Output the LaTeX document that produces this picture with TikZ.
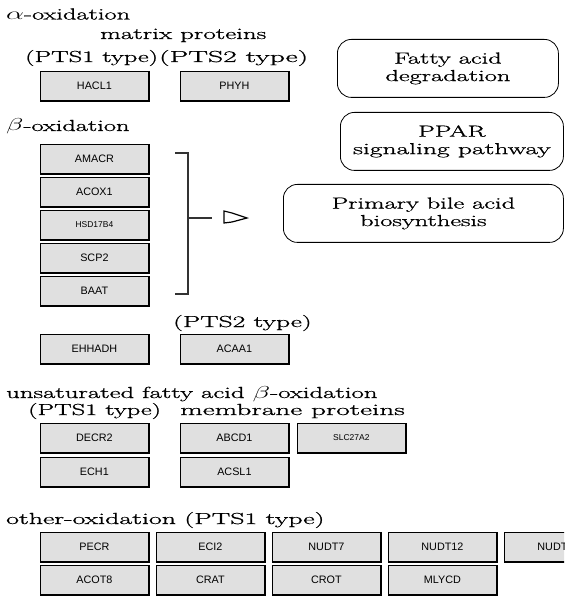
\documentclass[tikz,border=0pt]{standalone}
\usepackage{fontspec}
\usepackage{graphicx}
\newfontfamily\genefont{Liberation Sans}
\newfontfamily\lblfont{Latin Modern Roman}[FakeBold=0.8]
\definecolor{genegray}{HTML}{E0E0E0}
\newcommand{\sx}[2][1.65]{\scalebox{#1}[1]{#2}}
\tikzset{
  lbl/.style={anchor=base west, inner sep=0pt, font=\lblfont\fontsize{16}{18}\selectfont},
  genebox/.style={draw, fill=genegray, line width=0.8pt, minimum width=108pt,
    minimum height=29pt, inner sep=0pt, anchor=north west,
    font=\genefont\fontsize{10.8}{12}\selectfont},
  smallgene/.style={font=\genefont\fontsize{8.5}{10}\selectfont},
  pathbox/.style={draw, line width=0.8pt, rounded corners=14pt, inner sep=0pt,
    align=center, anchor=north west, font=\lblfont\fontsize{16}{17.5}\selectfont},
  shadowline/.style={line width=1.1pt},
  bracketline/.style={line width=1.3pt, draw=black!80},
}
\begin{document}
\begin{tikzpicture}[x=1pt, y=-1pt]
\useasboundingbox (0,0) rectangle (564,601);
\fill[white] (0,0) rectangle (564,601);
\clip (0,0) rectangle (564,601);

% section labels
\node[lbl] (lalpha) at (6,19.5) {\sx{$\alpha$-oxidation}};
\node[lbl] (lmatrix) at (100,39) {\sx[1.68]{matrix proteins}};
\node[lbl] (lpts1a) at (25,62) {\sx{(PTS1 type)}};
\node[lbl] (lpts2a) at (159,62) {\sx[1.85]{(PTS2 type)}};
\node[lbl] (lbeta) at (6,131) {\sx{$\beta$-oxidation}};
\node[lbl] (lpts2b) at (173,327) {\sx[1.72]{(PTS2 type)}};
\node[lbl] (lunsat) at (6,398) {\sx[1.67]{unsaturated fatty acid $\beta$-oxidation}};
\node[lbl] (lpts1b) at (28,415) {\sx{(PTS1 type)}};
\node[lbl] (lmembrane) at (180,415) {\sx[1.83]{membrane proteins}};
\node[lbl] (lother) at (6,524) {\sx[1.74]{other-oxidation (PTS1 type)}};

% gene boxes
\node[genebox] (hacl1) at (40,71) {HACL1};
\node[genebox] (phyh) at (180,71) {PHYH};
\node[genebox] (amacr) at (40,144) {AMACR};
\node[genebox] (acox1) at (40,177) {ACOX1};
\node[genebox, smallgene] (hsd17b4) at (40,210) {HSD17B4};
\node[genebox] (scp2) at (40,243) {SCP2};
\node[genebox] (baat) at (40,276) {BAAT};
\node[genebox] (ehhadh) at (40,334) {EHHADH};
\node[genebox] (acaa1) at (180,334) {ACAA1};
\node[genebox] (decr2) at (40,423) {DECR2};
\node[genebox] (abcd1) at (180,423) {ABCD1};
\node[genebox, smallgene] (slc27a2) at (297,423) {SLC27A2};
\node[genebox] (ech1) at (40,457) {ECH1};
\node[genebox] (acsl1) at (180,457) {ACSL1};
\node[genebox] (pecr) at (40,532) {PECR};
\node[genebox] (eci2) at (156,532) {ECI2};
\node[genebox] (nudt7) at (272,532) {NUDT7};
\node[genebox] (nudt12) at (388,532) {NUDT12};
\node[genebox] (nudt19) at (504,532) {NUDT19};
\node[genebox] (acot8) at (40,565) {ACOT8};
\node[genebox] (crat) at (156,565) {CRAT};
\node[genebox] (crot) at (272,565) {CROT};
\node[genebox] (mlycd) at (388,565) {MLYCD};

\foreach \n in {hacl1,phyh,amacr,acox1,hsd17b4,scp2,baat,ehhadh,acaa1,decr2,abcd1,
  slc27a2,ech1,acsl1,pecr,eci2,nudt7,nudt12,nudt19,acot8,crat,crot,mlycd}
  \draw[shadowline] ([xshift=0.9pt]\n.north east) -- ([xshift=0.9pt,yshift=-0.9pt]\n.south east)
    -- ([yshift=-0.9pt]\n.south west);

% pathway boxes
\node[pathbox, minimum width=221pt, minimum height=58pt] (fad) at (337,39)
  {\sx{Fatty acid}\\\sx{degradation}};
\node[pathbox, minimum width=223pt, minimum height=58pt] (ppar) at (340,112)
  {\sx{PPAR}\\\sx[1.72]{signaling pathway}};
\node[pathbox, minimum width=280pt, minimum height=58pt] (pba) at (283,184)
  {\sx{Primary bile acid}\\\sx{biosynthesis}};

% bracket and open arrow
\coordinate (brtop) at (175,153);
\coordinate (brbot) at (175,294);
\coordinate (brmid) at (188,218);
\coordinate (arrtip) at (247,218);
\draw[bracketline] (brtop) -- ++(13,0) |- (brbot);
\draw[bracketline] (brmid) -- ++(24,0);
\draw[line width=1.2pt, line join=miter] (224,211) -- (232,213) -- (arrtip) -- (232,222) -- (224,223) -- cycle;
\end{tikzpicture}
\end{document}
